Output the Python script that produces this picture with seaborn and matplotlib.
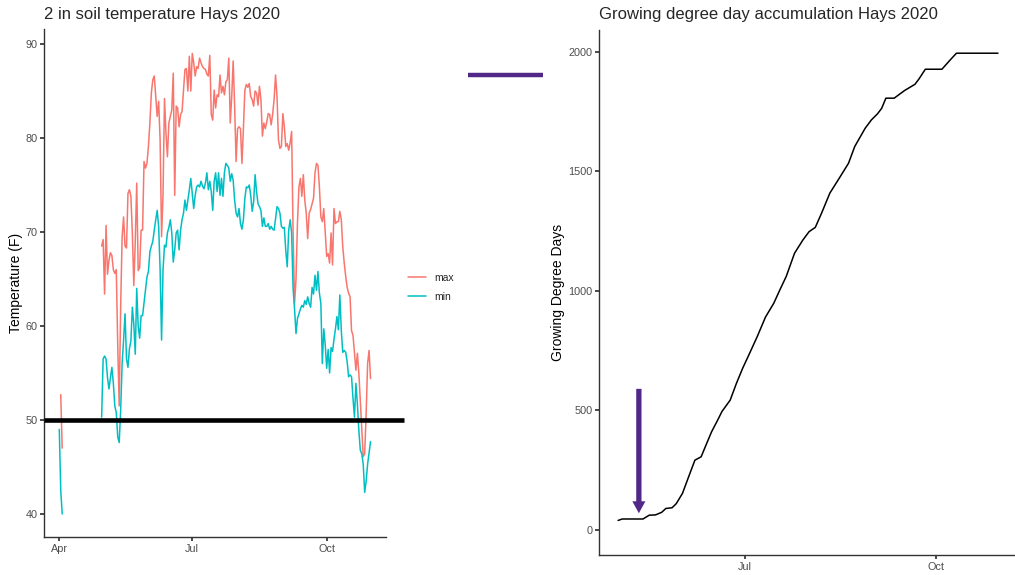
import numpy as np
import pandas as pd
import matplotlib
matplotlib.use("Agg")
import matplotlib.pyplot as plt
import matplotlib.dates as mdates
import seaborn as sns

# ---- data ----
# 2 in soil temperature (F), Hays 2020
early_dates = ["2020-04-01", "2020-04-02", "2020-04-03"]
early_max = [np.nan, 52.7, 47.0]
early_min = [49.0, 42.5, 40.0]

main_start, main_end = "2020-04-30", "2020-10-31"
soil_max = [
    68.5, 69.2, 63.4, 70.7, 65.5, 67.0, 67.8, 67.5, 66.0, 65.6,
    66.0, 58.0, 51.5, 62.0, 69.5, 71.6, 68.5, 68.3, 74.1, 74.5,
    73.8, 69.9, 64.3, 69.0, 75.2, 65.9, 66.2, 70.2, 70.2, 77.5,
    76.8, 77.3, 79.1, 81.6, 84.8, 86.2, 86.6, 84.4, 82.3, 83.9,
    79.8, 69.5, 74.1, 84.2, 80.5, 78.0, 81.6, 82.3, 83.0, 86.9,
    73.9, 83.4, 83.2, 81.2, 82.5, 82.8, 85.1, 87.3, 87.4, 85.0,
    88.7, 85.0, 89.0, 88.0, 86.6, 87.6, 87.4, 88.5, 88.0, 87.6,
    87.4, 87.3, 86.8, 86.6, 88.8, 82.5, 81.9, 85.1, 83.2, 84.6,
    84.4, 86.7, 84.8, 85.5, 84.6, 86.0, 86.2, 88.5, 81.6, 84.4,
    88.2, 83.4, 77.5, 81.0, 81.2, 81.0, 77.3, 81.0, 85.1, 85.7,
    85.4, 85.8, 84.4, 84.1, 83.4, 85.0, 84.8, 83.5, 85.5, 84.1,
    80.2, 81.6, 81.0, 81.7, 82.6, 82.5, 81.4, 82.5, 84.1, 86.7,
    84.4, 79.8, 78.9, 79.1, 82.6, 81.2, 79.1, 79.4, 78.7, 79.5,
    80.7, 70.0, 62.4, 65.0, 71.0, 74.8, 75.7, 73.8, 76.1, 73.4,
    72.0, 69.3, 72.0, 72.4, 73.0, 73.6, 76.3, 77.3, 77.1, 74.8,
    71.6, 71.1, 72.5, 69.9, 67.4, 67.7, 66.7, 69.9, 66.5, 72.5,
    70.9, 71.1, 71.1, 72.2, 71.3, 68.4, 66.7, 65.3, 64.1, 63.5,
    63.1, 59.5, 59.0, 57.1, 55.3, 57.1, 55.0, 52.0, 48.8, 46.1,
    46.4, 50.7, 56.0, 57.4, 54.4,
]
soil_min = [
    50.3, 56.5, 56.8, 56.5, 54.5, 53.3, 54.5, 55.6, 53.9, 51.5,
    50.8, 48.2, 47.6, 51.0, 56.0, 58.5, 61.3, 56.5, 55.6, 57.6,
    58.4, 62.0, 60.2, 57.0, 64.0, 60.0, 58.7, 61.1, 61.1, 62.5,
    63.8, 65.2, 65.8, 67.9, 68.5, 69.0, 70.2, 71.3, 72.3, 70.6,
    66.0, 58.5, 66.0, 68.6, 68.4, 69.9, 70.5, 71.3, 69.9, 66.8,
    68.1, 69.9, 70.2, 68.1, 70.2, 71.3, 72.0, 73.4, 72.3, 73.4,
    74.5, 75.7, 74.1, 72.5, 73.9, 74.8, 75.0, 74.8, 75.4, 74.9,
    74.6, 75.2, 76.3, 74.5, 75.4, 74.3, 72.3, 75.4, 76.3, 74.3,
    76.3, 73.9, 75.7, 73.8, 76.3, 77.3, 77.1, 76.8, 75.4, 76.2,
    75.5, 73.4, 72.0, 71.6, 72.5, 70.9, 70.3, 71.3, 73.6, 74.8,
    74.7, 75.0, 73.9, 72.2, 73.2, 76.1, 74.3, 73.0, 72.7, 72.3,
    70.6, 71.5, 70.6, 70.6, 70.9, 70.3, 70.6, 70.3, 70.2, 71.4,
    72.7, 72.5, 72.0, 70.6, 70.4, 70.5, 68.0, 66.3, 70.2, 71.3,
    69.9, 64.0, 61.8, 59.2, 60.8, 61.3, 61.8, 62.2, 62.0, 62.7,
    62.3, 63.1, 62.4, 62.0, 64.1, 63.4, 65.4, 63.8, 65.8, 63.5,
    62.4, 56.0, 59.7, 58.0, 55.5, 57.5, 55.0, 57.7, 57.3, 58.6,
    59.7, 61.0, 59.6, 63.3, 59.5, 57.2, 57.4, 57.2, 56.2, 54.6,
    54.8, 54.6, 52.3, 50.3, 53.9, 51.7, 48.9, 46.8, 46.4, 45.3,
    42.3, 43.5, 45.3, 46.5, 47.7,
]

# growing degree days, read at these day offsets from 2020-04-01
gdd_day = [30, 32, 42, 45, 48, 51, 53, 56, 58, 61, 64, 67, 70, 72, 75, 78, 80,
           84, 87, 90, 93, 97, 101, 105, 108, 111, 115, 119, 122, 125, 128, 132,
           137, 141, 144, 149, 152, 155, 157, 159, 163, 168, 173, 175, 178, 186,
           190, 193, 213]
gdd_value = [40, 46, 46, 62, 63, 74, 90, 93, 110, 153, 223, 292, 306, 348, 410,
             460, 495, 543, 613, 676, 732, 808, 890, 948, 1005, 1060, 1157, 1212,
             1247, 1265, 1324, 1408, 1477, 1533, 1603, 1679, 1714, 1740, 1763,
             1805, 1805, 1837, 1863, 1886, 1926, 1926, 1965, 1993, 1993]

base_temp = 50
arrow_date, arrow_top, arrow_tip = "2020-05-11", 590, 70
bar_start, bar_end, bar_y = "2020-02-18 17:00", "2020-03-25 19:00", 1900

purple = "#512888"
colors = {"max": "#F8766D", "min": "#00BFC4"}

# ---- tidy tables ----
early = pd.DataFrame({"date": pd.to_datetime(early_dates), "max": early_max,
                      "min": early_min, "seg": 0})
main = pd.DataFrame({"date": pd.date_range(main_start, main_end, freq="D"),
                     "max": soil_max, "min": soil_min, "seg": 1})
temps = pd.concat([early, main]).melt(id_vars=["date", "seg"], var_name="variable",
                                      value_name="temp").dropna()

gdd = pd.DataFrame({"date": pd.Timestamp("2020-04-01") + pd.to_timedelta(gdd_day, unit="D"),
                    "gdd": gdd_value})

# ---- style ----
sns.set_theme(style="ticks")
plt.rcParams["font.family"] = ["Liberation Sans", "DejaVu Sans"]
plt.rcParams["axes.edgecolor"] = "#333333"
plt.rcParams["axes.linewidth"] = 1.0
plt.rcParams["xtick.color"] = "#333333"
plt.rcParams["ytick.color"] = "#333333"
plt.rcParams["xtick.labelcolor"] = "#4D4D4D"
plt.rcParams["ytick.labelcolor"] = "#4D4D4D"
plt.rcParams["xtick.labelsize"] = 7.8
plt.rcParams["ytick.labelsize"] = 7.8
plt.rcParams["xtick.major.size"] = 2.6
plt.rcParams["ytick.major.size"] = 2.6
plt.rcParams["xtick.major.pad"] = 2.5
plt.rcParams["ytick.major.pad"] = 2.0

W, H = 1015, 575
fig = plt.figure(figsize=(W / 100, H / 100), dpi=100)
ax1 = fig.add_axes([44 / W, 38 / H, 342 / W, 508 / H])
ax2 = fig.add_axes([599 / W, 20 / H, 416 / W, 525 / H])

# ---- left: soil temperature ----
sns.lineplot(data=temps, x="date", y="temp", hue="variable", units="seg",
             estimator=None, palette=colors, linewidth=1.1, ax=ax1)
handles, labels = ax1.get_legend_handles_labels()
ax1.get_legend().remove()
ax1.axhline(base_temp, xmin=0, xmax=(404 - 44) / 342, color="black", lw=3.3,
            solid_capstyle="butt", clip_on=False, zorder=3)

ax1.set_xlim(pd.Timestamp("2020-03-21 13:00"), pd.Timestamp("2020-11-10 14:00"))
ax1.set_ylim(37.55, 91.6)
ax1.set_yticks([40, 50, 60, 70, 80, 90])
ax1.set_xticks(pd.to_datetime(["2020-04-01", "2020-07-01", "2020-10-01"]))
ax1.xaxis.set_major_formatter(mdates.DateFormatter("%b"))
ax1.set_xlabel("")
ax1.set_ylabel("Temperature (F)", fontsize=10, color="black")
ax1.yaxis.set_label_coords(-0.062, 0.5)
ax1.set_title("2 in soil temperature Hays 2020", loc="left", fontsize=12, pad=7.5)

fig.legend(handles, labels, loc="center left", bbox_to_anchor=(408 / W, 1 - 287.5 / H),
           frameon=False, fontsize=7.5, handlelength=1.7, handletextpad=0.8,
           labelspacing=0.85, borderpad=0, borderaxespad=0)

# ---- right: growing degree days ----
sns.lineplot(data=gdd, x="date", y="gdd", color="black", linewidth=1.1, ax=ax2)
ax2.annotate("", xy=(pd.Timestamp(arrow_date), arrow_tip),
             xytext=(pd.Timestamp(arrow_date), arrow_top),
             arrowprops=dict(arrowstyle="simple,head_length=8.6,head_width=9.4,tail_width=3.8",
                             fc=purple, ec="none", mutation_scale=1, shrinkA=0, shrinkB=0))
ax2.plot(pd.to_datetime([bar_start, bar_end]), [bar_y, bar_y], color=purple, lw=3.2,
         solid_capstyle="butt", clip_on=False)

ax2.set_xlim(pd.Timestamp("2020-04-21 19:00"), pd.Timestamp("2020-11-08 05:00"))
ax2.set_ylim(-104.5, 2090)
ax2.set_yticks([0, 500, 1000, 1500, 2000])
ax2.set_xticks(pd.to_datetime(["2020-07-01", "2020-10-01"]))
ax2.xaxis.set_major_formatter(mdates.DateFormatter("%b"))
ax2.set_xlabel("")
ax2.set_ylabel("Growing Degree Days", fontsize=10, color="black")
ax2.yaxis.set_label_coords(-0.082, 0.5)
ax2.set_title("Growing degree day accumulation Hays 2020", loc="left", fontsize=12, pad=7.7)

for ax in (ax1, ax2):
    sns.despine(ax=ax)

fig.savefig("out.png", dpi=100)
